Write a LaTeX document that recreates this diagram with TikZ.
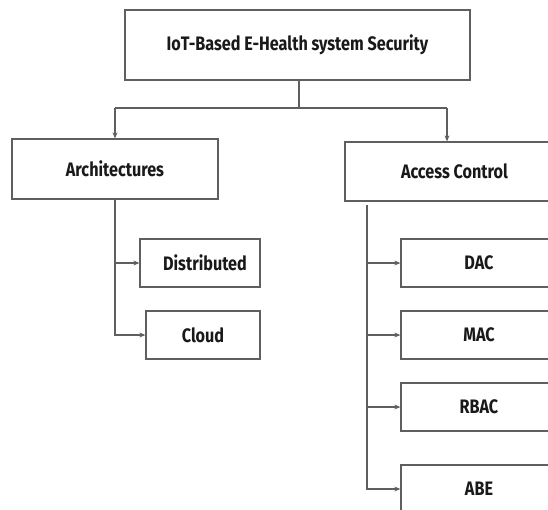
\documentclass[tikz,border=0pt]{standalone}
\usepackage{fontspec}
\setmainfont{Fira Sans}[FakeStretch=0.83]
\usetikzlibrary{arrows.meta}
\definecolor{edge}{RGB}{95,95,95}
\definecolor{ink}{RGB}{25,25,25}
\tikzset{
  box/.style={draw=edge, line width=1.3pt, fill=white, inner sep=0pt,
    font=\bfseries\fontsize{19.5}{22}\selectfont, text=ink},
  conn/.style={draw=edge, line width=1.1pt},
  arr/.style={conn, -{Stealth[length=6pt,width=5pt]}}
}
\begin{document}
\begin{tikzpicture}[x=1pt,y=-1pt]
\useasboundingbox (0,0) rectangle (548,509);
\clip (0,0) rectangle (548,509);
\node[box, minimum width=345pt, minimum height=70pt] (top) at (297.5,45) {\raisebox{-3pt}{IoT-Based E-Health system Security}};
\node[box, minimum width=206pt, minimum height=60pt] (arch) at (115,169) {\raisebox{-2pt}{Architectures}};
\node[box, minimum width=120pt, minimum height=48pt] (dist) at (200,263) {\hspace{10pt}Distributed};
\node[box, minimum width=114pt, minimum height=48pt] (cloud) at (203,335) {Cloud};
\node[box, minimum width=219pt, minimum height=59pt] (ac) at (454.5,171.5) {Access Control};
\node[box, minimum width=156pt, minimum height=48pt] (dac) at (479,263) {DAC};
\node[box, minimum width=156pt, minimum height=48pt] (mac) at (479,335) {MAC};
\node[box, minimum width=156pt, minimum height=48pt] (rbac) at (479,407) {RBAC};
\node[box, minimum width=156pt, minimum height=48pt] (abe) at (479,489) {ABE};
\coordinate (j) at (299,108);
\coordinate (jl) at (115,108);
\coordinate (jr) at (447,108);
\coordinate (acl) at (367,205);
\draw[conn] (top.south -| j) -- (j);
\draw[conn] (jl) -- (jr);
\draw[arr] (jl) -- (arch.north);
\draw[arr] (jr) -- (ac.north -| jr);
\draw[arr] (arch.south) |- (cloud.west);
\draw[arr] (arch.south |- dist.west) -- (dist.west);
\draw[arr] (acl) |- (abe.west);
\draw[arr] (acl |- dac.west) -- (dac.west);
\draw[arr] (acl |- mac.west) -- (mac.west);
\draw[arr] (acl |- rbac.west) -- (rbac.west);
\end{tikzpicture}
\end{document}
